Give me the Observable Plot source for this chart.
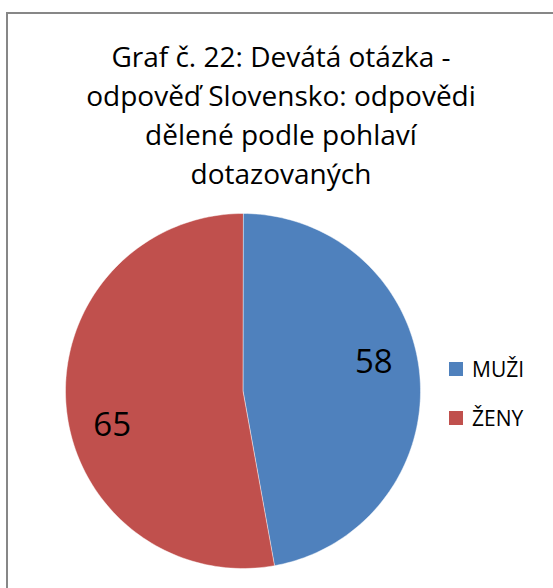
<!DOCTYPE html>
<html>
<head>
<meta charset="utf-8">
<script src="https://cdn.jsdelivr.net/npm/d3@7"></script>
<script src="https://cdn.jsdelivr.net/npm/@observablehq/plot@0.6"></script>
<style>
  html, body { margin: 0; padding: 0; background: #fff; }
  #wrap { position: relative; width: 553px; height: 588px; overflow: hidden; background: #fff; font-family: "Open Sans", sans-serif; }
  #frame { position: absolute; left: 6px; top: 12px; width: 620px; height: 700px; border: 2px solid #878787; box-sizing: border-box; }
  #title { position: absolute; left: 0; top: 37px; width: 562px; text-align: center; font-size: 28px; line-height: 39px; color: #000; }
  #legend { position: absolute; left: 449px; top: 344px; font-size: 21px; color: #000; }
  .li { display: flex; align-items: center; height: 49px; }
  .sw { width: 14px; height: 14px; margin-right: 9px; }
  #plot { position: absolute; left: 0; top: 0; }
</style>
</head>
<body>
<div id="wrap">
  <div id="frame"></div>
  <div id="plot"></div>
  <div id="title"></div>
  <div id="legend"></div>
</div>
<script>
const titleLines = ["Graf č. 22: Devátá otázka -", "odpověď Slovensko: odpovědi", "dělené podle pohlaví", "dotazovaných"];
const categories = ["MUŽI", "ŽENY"];
const values = [58, 65];
const colors = ["#4F81BD", "#C0504D"];

document.getElementById("title").innerHTML = titleLines.join("<br>");

const legend = document.getElementById("legend");
categories.forEach((c, i) => {
  const row = document.createElement("div");
  row.className = "li";
  row.innerHTML = `<div class="sw" style="background:${colors[i]}"></div><span>${c}</span>`;
  legend.appendChild(row);
});

// pie geometry (angles clockwise from 12 o'clock)
const arcs = d3.pie().sort(null).value(d => d.value)(categories.map((c, i) => ({key: c, value: values[i]})));
const points = [];
arcs.forEach(a => {
  const n = 120;
  points.push({key: a.data.key, x: 0, y: 0});
  for (let k = 0; k <= n; k++) {
    const t = a.startAngle + (a.endAngle - a.startAngle) * k / n;
    points.push({key: a.data.key, x: Math.sin(t), y: Math.cos(t)});
  }
});
const labels = arcs.map(a => {
  const m = (a.startAngle + a.endAngle) / 2;
  return {key: a.data.key, value: a.data.value, x: 0.74 * Math.sin(m), y: 0.74 * Math.cos(m)};
});

const chart = Plot.plot({
  width: 553,
  height: 588,
  marginLeft: 65,
  marginRight: 133,
  marginTop: 213,
  marginBottom: 20,
  x: {domain: [-1, 1], axis: null},
  y: {domain: [-1, 1], axis: null},
  color: {type: "ordinal", domain: categories, range: colors},
  style: {background: "transparent", overflow: "visible"},
  marks: [
    Plot.line(points, {x: "x", y: "y", z: "key", fill: "key", stroke: "#ffffff", strokeOpacity: 0.45, strokeWidth: 1, curve: "linear-closed"}),
    Plot.text(labels.filter(d => d.key === categories[0]), {x: "x", y: "y", text: d => String(d.value), fontSize: 33, fill: "#000", dy: -17, fontFamily: "Open Sans"}),
    Plot.text(labels.filter(d => d.key === categories[1]), {x: "x", y: "y", text: d => String(d.value), fontSize: 33, fill: "#000", dy: 23, fontFamily: "Open Sans"})
  ]
});
document.getElementById("plot").appendChild(chart);
</script>
</body>
</html>
